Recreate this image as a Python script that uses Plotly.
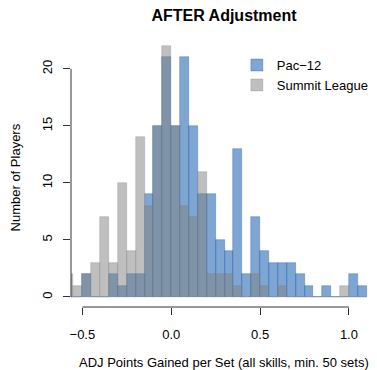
import plotly.graph_objects as go

# Histogram bins (left edges), width 0.05
bin_left = [-0.60, -0.55, -0.50, -0.45, -0.40, -0.35, -0.30, -0.25, -0.20, -0.15,
            -0.10, -0.05, 0.00, 0.05, 0.10, 0.15, 0.20, 0.25, 0.30, 0.35,
            0.40, 0.45, 0.50, 0.55, 0.60, 0.65, 0.70, 0.75, 0.80, 0.85,
            0.90, 0.95, 1.00, 1.05]
bin_width = 0.05
pac12 = [0, 0, 2, 0, 0, 2, 1, 2, 2, 9,
         15, 21, 15, 21, 15, 9, 9, 5, 4, 13,
         2, 7, 4, 3, 3, 3, 2, 1, 0, 1,
         0, 0, 2, 1]
summit = [2, 1, 2, 3, 7, 3, 10, 4, 14, 8,
          15, 22, 15, 8, 7, 11, 2, 2, 2, 1,
          0, 2, 1, 0, 1, 0, 0, 0, 0, 0,
          0, 1, 0, 0]
x_ticks = [-0.5, 0.0, 0.5, 1.0]
x_ticktext = ["\u22120.5", "0.0", "0.5", "1.0"]
y_ticks = [0, 5, 10, 15, 20]

centers = [b + bin_width / 2 for b in bin_left]

BLUE = "rgba(0,78,165,0.5)"
GRAY = "rgba(128,128,128,0.5)"
FONT = "Liberation Sans, Arial, Helvetica, sans-serif"

fig = go.Figure()
fig.add_trace(go.Bar(x=centers, y=pac12, width=bin_width, name="Pac\u221212",
                     marker=dict(color=BLUE, line=dict(color=BLUE, width=0.6))))
fig.add_trace(go.Bar(x=centers, y=summit, width=bin_width, name="Summit League",
                     marker=dict(color=GRAY, line=dict(color=GRAY, width=0.6))))

W, H = 377, 370
L, R, T, B = 71, 0, 36, 63

fig.update_layout(
    width=W, height=H,
    margin=dict(l=L, r=R, t=T, b=B, autoexpand=False),
    barmode="overlay",
    bargap=0,
    plot_bgcolor="white", paper_bgcolor="white",
    font=dict(family=FONT, size=13, color="black"),
    title=dict(text="<b>AFTER Adjustment</b>", x=0.5, xref="paper",
               y=1 - 15 / H, yref="container", yanchor="middle", xanchor="center",
               font=dict(size=16, family=FONT, color="black")),
    showlegend=True,
    legend=dict(x=0.542, y=0.948, xanchor="left", yanchor="top",
                bgcolor="rgba(0,0,0,0)", font=dict(size=13),
                tracegroupgap=0, itemwidth=30),
    xaxis=dict(range=[-0.564, 1.158], tickvals=x_ticks, ticktext=x_ticktext,
               ticks="outside", ticklen=7, tickcolor="#333", showline=False,
               showgrid=False, zeroline=False, ticklabelstandoff=8,
               tickfont=dict(size=13), automargin=False),
    yaxis=dict(range=[-0.88, 22.88], tickvals=y_ticks, ticks="outside", ticklen=7,
               tickcolor="#333", showline=False, showgrid=False, zeroline=False,
               tickangle=-90, ticklabelstandoff=6, tickfont=dict(size=13),
               automargin=False),
)

# axis lines spanning only the tick range (R style)
fig.add_shape(type="line", xref="x", yref="paper", x0=x_ticks[0], x1=x_ticks[-1],
              y0=0, y1=0, line=dict(color="#333", width=1))
fig.add_shape(type="line", xref="paper", yref="y", x0=0, x1=0,
              y0=y_ticks[0], y1=y_ticks[-1], line=dict(color="#333", width=1))

plot_h = H - T - B
plot_w = W - L - R
fig.add_annotation(text="ADJ Points Gained per Set (all skills, min. 50 sets)",
                   xref="paper", yref="paper", x=0.5, y=-(362 - (H - B)) / plot_h,
                   xanchor="center", yanchor="middle", showarrow=False,
                   font=dict(size=13))
fig.add_annotation(text="Number of Players", xref="paper", yref="paper",
                   x=(15 - L) / plot_w, y=0.478, xanchor="center", yanchor="middle",
                   textangle=-90, showarrow=False, font=dict(size=13))

fig.write_html("out.html", config={"displayModeBar": False},
               post_script="document.body.style.margin='0';document.body.style.overflow='hidden';")
